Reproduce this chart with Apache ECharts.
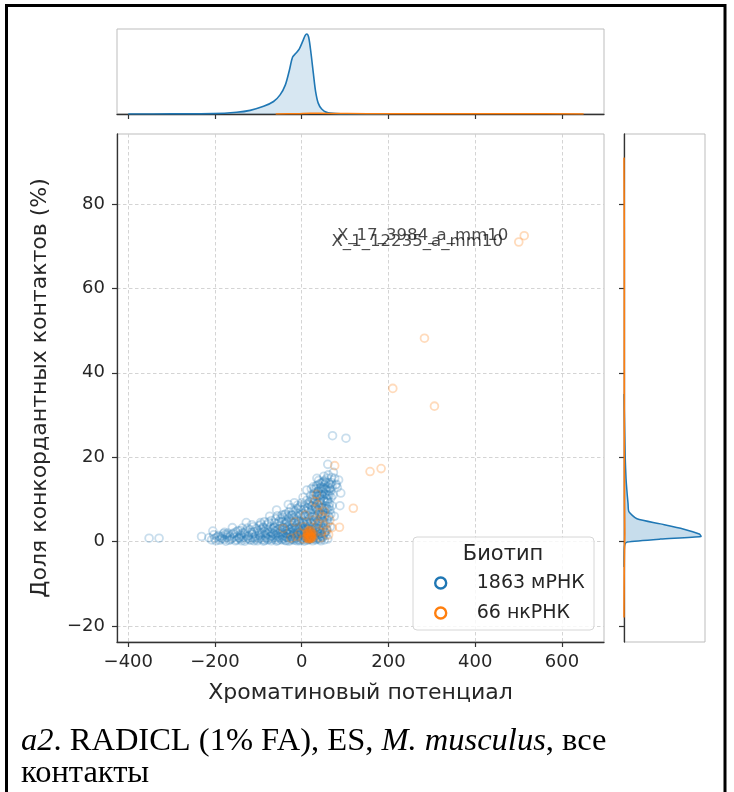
<!DOCTYPE html>
<html>
<head>
<meta charset="utf-8">
<script src="https://cdn.jsdelivr.net/npm/echarts@6/dist/echarts.min.js"></script>
<style>
  html, body { margin: 0; padding: 0; background: #fff; }
  #chart { width: 734px; height: 792px; }
</style>
</head>
<body>
<div id="chart"></div>
<script>
// Axis limits and tick labels
const xRange = [-426, 697];
const yRange = [-23.8, 96.6];
const xTicks = [-400, -200, 0, 200, 400, 600];
const yTicks = [-20, 0, 20, 40, 60, 80];

// Series names
const biotypeNames = ['1863 мРНК', '66 нкРНК'];

// mRNA points: [chromatin potential, concordant contact share %]
const mrnaPoints = [
  [-352,0.8],[-329,0.8],[-231,1.2],[-205,2.5],
  [-214,0.9],[-208,0.4],[-201,0.7],[-195,1.1],[-189,0.3],[-184,0.8],[-178,0.5],[-172,1.0],[-167,0.3],[-161,0.7],
  [-156,1.1],[-150,0.4],[-145,0.8],[-139,0.2],[-134,1.0],[-129,0.5],[-123,0.8],[-118,0.3],[-113,0.9],[-107,0.6],
  [-102,0.2],[-96,0.9],[-91,0.5],[-86,0.3],[-81,0.8],[-76,0.6],[-70,0.2],[-66,1.0],[-61,0.5],[-55,0.3],[-51,0.9],
  [-46,0.4],[-41,0.7],[-36,0.2],[-32,0.9],[-27,0.4],[-23,0.6],[-18,0.3],[-14,0.8],[-9,0.5],[-5,0.2],[0,0.7],[4,0.4],
  [8,0.9],[13,0.3],[17,0.6],[22,0.5],[27,0.8],[32,0.4],[37,0.7],[42,0.5],[48,0.9],
  [-203,1.6],[-192,1.4],[-181,1.9],[-171,1.5],[-160,1.8],[-149,1.3],[-140,1.7],[-131,2.0],[-122,1.4],[-114,1.8],
  [-106,1.3],[-99,1.6],[-92,2.0],[-85,1.4],[-78,1.7],[-72,1.2],[-66,1.9],[-60,1.5],[-54,1.3],[-48,1.8],[-43,1.5],
  [-38,1.2],[-33,1.9],[-28,1.6],[-24,1.3],[-19,1.8],[-15,1.4],[-10,1.7],[-6,1.3],[-2,1.9],[3,1.5],[7,1.2],[12,1.8],
  [16,1.4],[21,1.6],[26,1.3],[31,1.9],[36,1.5],[41,1.7],[46,1.3],[52,1.8],
  [-151,2.3],[-141,2.6],[-130,2.4],[-119,2.8],[-110,2.3],[-101,2.6],[-93,2.9],[-86,2.4],[-79,2.7],[-73,2.3],[-67,3.0],
  [-61,2.5],[-55,2.8],[-49,2.3],[-44,2.7],[-39,3.0],[-34,2.5],[-29,2.8],[-25,2.3],[-20,2.7],[-16,3.0],[-11,2.4],
  [-7,2.8],[-3,2.5],[1,2.9],[5,2.4],[9,2.7],[14,3.0],[18,2.5],[23,2.8],[28,2.4],[33,2.7],[38,3.0],[43,2.5],[48,2.8],[54,2.3],
  [-112,3.5],[-98,3.8],[-88,3.4],[-80,4.0],[-72,3.6],[-64,3.3],[-57,4.2],[-50,3.7],[-44,3.4],[-38,4.3],[-33,3.6],
  [-28,4.0],[-23,3.4],[-18,4.4],[-13,3.8],[-8,3.3],[-4,4.2],[0,3.7],[5,4.4],[9,3.5],[14,4.1],[19,3.6],[24,4.4],
  [29,3.8],[34,3.4],[39,4.2],[44,3.7],[49,4.4],[55,3.9],
  [-70,5.0],[-60,5.4],[-52,4.8],[-44,5.8],[-37,5.1],[-30,5.6],[-24,4.9],[-18,5.7],[-12,5.2],[-6,4.7],[-1,5.5],[4,5.0],
  [9,5.8],[13,4.8],[18,5.4],[23,5.9],[28,5.1],[33,5.6],[38,4.9],[43,5.5],[48,5.0],[53,5.8],[58,5.2],
  [-40,6.4],[-30,7.0],[-22,6.3],[-15,7.3],[-8,6.6],[-2,7.6],[4,6.5],[10,7.2],[14,8.0],[19,6.8],[24,7.5],[29,6.4],
  [34,7.8],[39,7.0],[44,6.5],[49,7.4],[55,6.8],[60,7.7],
  [-10,8.6],[0,9.2],[7,8.4],[12,9.8],[18,8.8],[23,10.2],[28,9.0],[32,8.3],[36,10.6],[40,9.3],[44,8.7],[48,10.8],
  [52,9.6],[56,8.5],[60,10.0],[64,11.0],
  [22,12.5],[30,11.5],[34,13.2],[38,12.0],[43,13.8],[46,11.2],[50,12.8],[54,14.5],[57,12.2],[61,15.8],[65,12.6],
  [68,14.0],[73,16.4],[76,15.0],[82,12.8],[90,11.5],
  [30,6.0],[35,9.0],[40,11.0],[45,8.0],[50,10.0],[55,12.5],[60,9.5],[65,7.5],[62,12.0],[58,11.0],[52,8.0],[46,12.5],
  [42,9.8],[37,7.5],[68,10.5],[66,13.5],[56,14.0],[33,12.5],[26,10.0],[48,6.5],[53,11.3],[59,13.0],[63,5.8],[44,10.2],[38,13.5],
  [-183,1.3],[-170,2.0],[-147,2.6],[-137,3.2],[-128,4.5],[-94,4.1],[-86,4.7],[-74,6.0],[-58,7.5],[-48,5.5],[-37,6.5],
  [-31,8.8],[-20,7.0],[-17,9.2],[-7,8.0],[3,10.5],[11.5,12.2],[15,9.0],[21,11.0],[27,13.0],[35,15.0],[47,14.0],
  [51,15.5],[60,18.3],[69,15.2],[71,25.1],[78,13.4],[85,14.6],[80,13.6],[88,8.5],[102,24.5],[72,11.0],[75,6.0],
  [66,3.5],[67,6.5],[64,9.0],[58,2.8],[56,1.5],[60,0.6],[-160,3.3],[-115,4.0],[-140,1.3],[-175,1.7],
  [-198,0.2],[-186,0.6],[-175,0.1],[-164,0.5],[-153,0.2],[-142,0.6],[-131,0.1],[-120,0.5],[-110,0.2],[-99,0.6],
  [-88,0.1],[-78,0.4],[-68,0.6],[-58,0.1],[-48,0.6],[-38,0.3],[-29,0.1],[-20,0.6],[-11,0.2],[-2,0.4],[6,0.1],
  [15,0.5],[25,0.2],[34,0.6],[44,0.2],[52,0.4],
  [-188,1.1],[-166,1.2],[-144,1.0],[-126,1.2],[-109,1.0],[-95,1.3],[-83,1.0],[-70,1.4],[-57,1.0],[-45,1.2],
  [-35,1.0],[-26,1.1],[-17,1.0],[-8,1.1],[1,1.0],[10,1.3],[19,1.0],[29,1.1],[39,1.0],[49,1.2],
  [-178,2.2],[-157,2.0],[-136,2.1],[-116,2.2],[-97,2.1],[-82,2.0],[-69,2.2],[-57,2.0],[-46,2.1],[-36,2.0],
  [-27,2.2],[-18,2.0],[-9,2.1],[0,2.2],[8,2.0],[17,2.1],[26,2.0],[35,2.2],[44,2.0],[53,2.1],
  [-125,3.2],[-105,3.1],[-90,3.3],[-76,3.0],[-63,3.4],[-52,3.1],[-41,3.3],[-31,3.0],[-21,3.2],[-12,3.1],
  [-3,3.4],[6,3.0],[15,3.3],[24,3.1],[32,3.3],[41,3.0],[50,3.3],[57,3.1],
  [-95,4.5],[-76,4.6],[-62,4.4],[-47,4.7],[-35,4.5],[-26,4.8],[-16,4.6],[-7,4.9],[2,4.5],[11,4.7],[20,4.5],
  [30,4.8],[40,4.6],[51,4.8],[60,4.4],
  [-56,6.1],[-45,6.3],[-33,6.0],[-24,6.2],[-12,6.0],[-3,6.3],[7,6.1],[16,6.2],[26,5.9],[36,6.2],[45,6.0],
  [54,6.3],[62,6.1],
  [-25,8.0],[-12,7.8],[-4,8.4],[6,7.7],[16,7.6],[22,8.4],[31,8.0],[41,8.2],[47,8.0],[57,7.9],[63,8.3],[70,8.5],
  [20,9.5],[27,11.0],[31,10.0],[37,11.8],[41,10.8],[45,13.0],[49,11.8],[53,13.5],[57,10.2],[61,11.0],[63,13.8],
  [67,12.0],[70,13.0],[58,15.0],[50,14.2],[42,12.6],[35,11.0],[25,8.6],[29,12.5],[39,14.5]
];

// ncRNA points (66)
const ncrnaPoints = [
  [513,72.5],[500.5,71.0],[283,48.2],[210,36.3],[306,32.1],[183,17.3],[157.5,16.6],[76,18.0],[119,7.9],[87,3.4],
  [65,5.1],[48,5.9],[38,8.7],[27,5.1],[-15.5,4.7],[-43,3.1],[-12,1.2],[57.6,2.7],[7.7,6.3],[-4,2.0],[45,2.2],
  [36,4.2],[41,6.8],[50,3.8],[30,9.5],[-25,0.8],[52,7.2],[62,1.6],[5,3.5],[70,3.3],[34,11.2],[44,0.9],[3,0.6],
  [11,1.0],[12,1.8],[13,0.8],[13,2.4],[14,1.4],[15,0.9],[15,2.0],[16,1.2],[16,2.6],[17,0.7],[17,1.7],[18,1.1],
  [18,2.2],[19,0.8],[19,1.5],[20,2.0],[20,1.0],[21,0.7],[21,2.5],[21,1.4],[22,1.8],[22,0.9],[23,1.2],[23,2.2],
  [24,0.8],[24,1.6],[14,1.9],[16,0.6],[18,1.6],[20,1.3],[22,1.1],[25,1.9],[19,2.6]
];

// Annotated transcripts (index into ncrnaPoints)
const annotatedNames = ['X_17_3984_a_mm10', 'X_1_12235_a_mm10'];
const annotatedIndex = [0, 1];

// Marginal density along x (relative height)
const topKdeX = [-400,-300,-204,-150,-119,-88,-65,-50,-38,-28.5,-21,-13,-5.5,2.4,7.7,11.5,16,21.5,26.8,32,38,46,57.5,80,111,200];
const topKdeMrna = [0,0.001,0.004,0.02,0.043,0.09,0.147,0.225,0.34,0.515,0.67,0.717,0.767,0.857,0.922,0.942,0.903,0.709,0.477,0.264,0.128,0.058,0.019,0.004,0.001,0];
const topKdeNcX = [-60,-10,20,60,150,300,500,650];
const topKdeNc = [0,0.004,0.009,0.007,0.004,0.004,0.004,0];

// Marginal density along y (relative width)
const rightKdeY = [-6,-2,-0.7,-0.1,0.6,1.2,1.8,3.0,4.2,5.4,7.1,9,11.1,15,20,26.2,35];
const rightKdeMrna = [0,0.003,0.01,0.04,0.45,0.95,0.93,0.73,0.45,0.16,0.06,0.05,0.04,0.025,0.015,0.008,0];
const rightKdeNcY = [-18,-5,0,2,10,30,50,72,91];
const rightKdeNc = [0,0.004,0.008,0.01,0.006,0.004,0.004,0.004,0];

const BLUE = '#1f77b4';
const ORANGE = '#ff7f0e';
const TXT = '#262626';
const SANS = 'DejaVu Sans';
const SERIF = 'Liberation Serif';
const minusFmt = v => String(v).replace('-', '\u2212');

const ncrnaData = ncrnaPoints.map((p, i) => {
  const k = annotatedIndex.indexOf(i);
  if (k < 0) return p;
  return {
    value: p, name: annotatedNames[k],
    label: { show: true, position: 'left', distance: 11, formatter: '{b}',
             color: '#1a1a1a', fontFamily: SANS, fontSize: 16.6 }
  };
});

const rightPolygon = (ys, ds, fill, stroke) => (params, api) => {
  const pts = ys.map((y, i) => api.coord([ds[i], y]));
  return { type: 'group', children: [
    fill ? { type: 'polygon', shape: { points: pts, smooth: 0.2 }, style: { fill: fill, stroke: null } } : null,
    { type: 'polyline', shape: { points: pts, smooth: 0.2 }, style: { stroke: stroke, lineWidth: 1.5, fill: null } }
  ].filter(Boolean) };
};

const chart = echarts.init(document.getElementById('chart'), null, { renderer: 'canvas' });

const darkLine = { show: true, onZero: false, lineStyle: { color: '#333', width: 1.3 } };
const outTick = vals => ({ show: true, inside: false, length: 5, customValues: vals, lineStyle: { color: '#333', width: 1.2 } });

chart.setOption({
  animation: false,
  backgroundColor: '#fff',
  textStyle: { fontFamily: SANS },
  grid: [
    { left: 117, top: 134, width: 487, height: 508, show: true, borderColor: '#bdbdbd', borderWidth: 1, backgroundColor: 'transparent' },
    { left: 117, top: 29, width: 487, height: 85, show: true, borderColor: '#bdbdbd', borderWidth: 1, backgroundColor: 'transparent' },
    { left: 624, top: 134, width: 81, height: 508, show: true, borderColor: '#bdbdbd', borderWidth: 1, backgroundColor: 'transparent' }
  ],
  xAxis: [
    { type: 'value', gridIndex: 0, min: xRange[0], max: xRange[1],
      axisLine: darkLine, axisTick: outTick(xTicks),
      axisLabel: { customValues: xTicks, formatter: minusFmt, color: TXT, fontSize: 18, margin: 11, fontFamily: SANS },
      splitLine: { show: true, lineStyle: { color: '#cfcfcf', width: 0.9, type: [3.5, 2.5] } },
      name: 'Хроматиновый потенциал', nameLocation: 'middle', nameGap: 40,
      nameTextStyle: { color: TXT, fontSize: 22, fontFamily: SANS } },
    { type: 'value', gridIndex: 1, min: xRange[0], max: xRange[1],
      axisLine: darkLine, axisTick: outTick(xTicks),
      axisLabel: { show: false }, splitLine: { show: false } },
    { type: 'value', gridIndex: 2, min: 0, max: 1, show: false }
  ],
  yAxis: [
    { type: 'value', gridIndex: 0, min: yRange[0], max: yRange[1],
      axisLine: darkLine, axisTick: outTick(yTicks),
      axisLabel: { customValues: yTicks, formatter: minusFmt, color: TXT, fontSize: 18, margin: 12, fontFamily: SANS },
      splitLine: { show: true, lineStyle: { color: '#cfcfcf', width: 0.9, type: [3.5, 2.5] } },
      name: 'Доля конкордантных контактов (%)', nameLocation: 'middle', nameRotate: 90, nameGap: 66,
      nameTextStyle: { color: TXT, fontSize: 22, fontFamily: SANS } },
    { type: 'value', gridIndex: 1, min: 0, max: 1, show: false },
    { type: 'value', gridIndex: 2, min: yRange[0], max: yRange[1],
      axisLine: darkLine, axisTick: outTick(yTicks),
      axisLabel: { show: false }, splitLine: { show: false } }
  ],
  legend: {
    orient: 'vertical', left: 434, top: 573, padding: 0, itemGap: 10,
    itemWidth: 62, itemHeight: 11, icon: 'circle', selectedMode: false, z: 30,
    textStyle: { fontFamily: SANS, fontSize: 19, color: TXT, lineHeight: 20 },
    data: [
      { name: biotypeNames[0], itemStyle: { color: 'rgba(0,0,0,0)', borderColor: BLUE, borderWidth: 2.4, opacity: 1 } },
      { name: biotypeNames[1], itemStyle: { color: 'rgba(0,0,0,0)', borderColor: ORANGE, borderWidth: 2.4, opacity: 1 } }
    ]
  },
  graphic: [
    { type: 'rect', z: 25, shape: { x: 413, y: 537, width: 181, height: 93, r: 4 },
      style: { fill: 'rgba(255,255,255,0.8)', stroke: '#d6d6d6', lineWidth: 1 } },
    { type: 'text', z: 26, style: { x: 503, y: 555, text: 'Биотип', align: 'center', verticalAlign: 'middle',
      font: '21px "DejaVu Sans"', fill: TXT } },
    { type: 'text', z: 26, style: { x: 21, y: 741, verticalAlign: 'middle',
      text: '{i|a2}{n|. RADICL (1% FA), ES, }{i|M. musculus}{n|, все}',
      rich: { i: { fontFamily: SERIF, fontStyle: 'italic', fontSize: 32.5, fill: '#000' },
              n: { fontFamily: SERIF, fontSize: 32.5, fill: '#000' } } } },
    { type: 'text', z: 26, style: { x: 21, y: 773, verticalAlign: 'middle', text: 'контакты',
      font: '32.5px "Liberation Serif"', fill: '#000' } },
    { type: 'rect', z: 40, shape: { x: 6.5, y: 5.5, width: 718.5, height: 900 },
      style: { fill: null, stroke: '#000', lineWidth: 3 } }
  ],
  series: [
    { type: 'scatter', name: biotypeNames[0], xAxisIndex: 0, yAxisIndex: 0, data: mrnaPoints, silent: true,
      symbol: 'circle', symbolSize: 7.8, z: 2,
      itemStyle: { color: 'rgba(0,0,0,0)', borderColor: 'rgba(31,119,180,0.3)', borderWidth: 1.8 } },
    { type: 'scatter', name: biotypeNames[1], xAxisIndex: 0, yAxisIndex: 0, data: ncrnaData, silent: true,
      symbol: 'circle', symbolSize: 7.8, z: 3,
      itemStyle: { color: 'rgba(0,0,0,0)', borderColor: 'rgba(255,127,14,0.35)', borderWidth: 1.8 } },
    { type: 'line', xAxisIndex: 1, yAxisIndex: 1, silent: true, showSymbol: false, smooth: 0.3,
      data: topKdeX.map((x, i) => [x, topKdeMrna[i]]),
      lineStyle: { color: BLUE, width: 1.6 }, areaStyle: { color: 'rgba(31,119,180,0.25)' } },
    { type: 'line', xAxisIndex: 1, yAxisIndex: 1, silent: true, showSymbol: false, smooth: 0.3,
      data: topKdeNcX.map((x, i) => [x, topKdeNc[i]]),
      lineStyle: { color: ORANGE, width: 1.5 }, areaStyle: { color: 'rgba(255,127,14,0.25)' } },
    { type: 'custom', xAxisIndex: 2, yAxisIndex: 2, silent: true, data: [[0, 0]], clip: false,
      renderItem: rightPolygon(rightKdeY, rightKdeMrna, 'rgba(31,119,180,0.25)', BLUE) },
    { type: 'custom', xAxisIndex: 2, yAxisIndex: 2, silent: true, data: [[0, 0]], clip: false,
      renderItem: rightPolygon(rightKdeNcY, rightKdeNc, 'rgba(255,127,14,0.25)', ORANGE) }
  ]
});
</script>
</body>
</html>
